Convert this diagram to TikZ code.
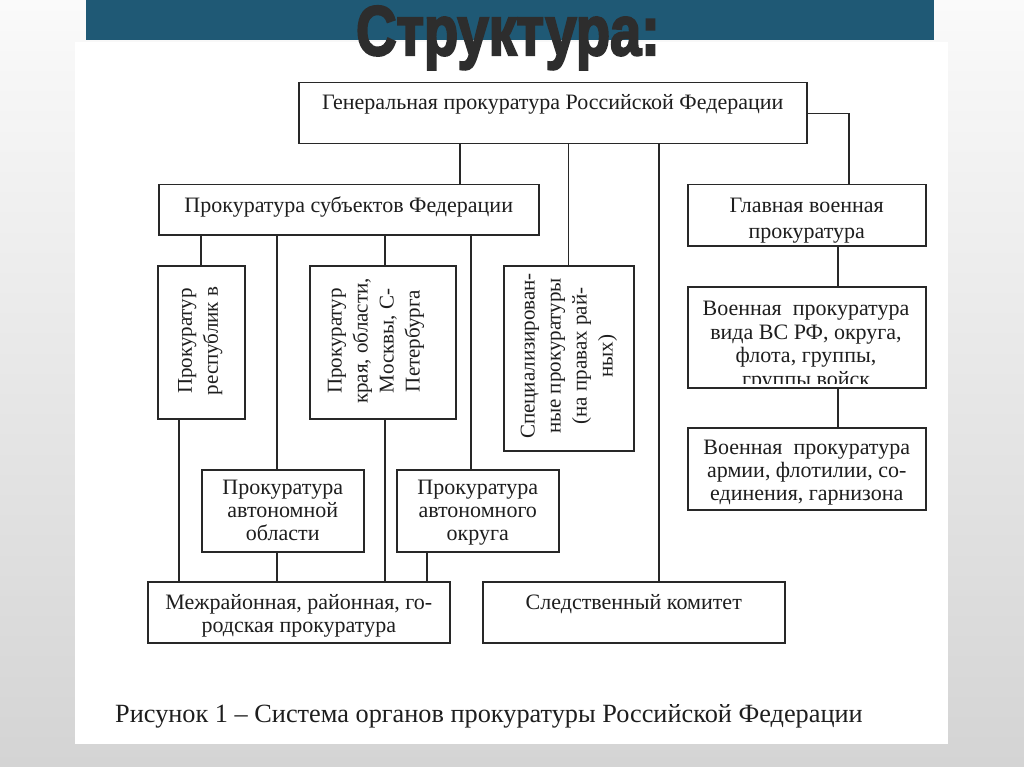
\documentclass[tikz,border=0pt]{standalone}
\usepackage{fontspec}
\setmainfont{Liberation Serif}
\newfontfamily\titlefont[FakeBold=3.5]{Liberation Sans Bold}
\definecolor{barc}{RGB}{31,89,117}
\definecolor{titlec}{RGB}{45,45,45}
\definecolor{linec}{RGB}{40,40,40}
\definecolor{textc}{RGB}{30,30,30}
\definecolor{bgtop}{RGB}{250,250,250}
\definecolor{bgbot}{RGB}{212,212,212}
\tikzset{
  box/.style={draw=linec, line width=1.5pt, fill=white, inner sep=0pt, anchor=north west,
    align=center, text=textc, font=\fontsize{22}{23}\selectfont},
  rtext/.style={rotate=90, align=center, text=textc, inner sep=0pt, font=\fontsize{21}{26}\selectfont},
  conn/.style={draw=linec, line width=1.4pt}
}
\begin{document}
\begin{tikzpicture}[x=1pt,y=-1pt]
\useasboundingbox (0,0) rectangle (1024,767);
\shade[top color=bgtop, bottom color=bgbot] (0,0) rectangle (1024,767);
\fill[white] (75,42) rectangle (948,744);
\fill[barc] (86,0) rectangle (934,40);
\node[anchor=base, inner sep=0pt, text=titlec, font=\titlefont\fontsize{70}{70}\selectfont] (title) at (508,55) {\scalebox{0.8}[1]{Структура:}};

% boxes
\node[box, minimum width=508pt, minimum height=61pt, text height=27pt, text depth=34pt] (gen) at (298,82) {Генеральная прокуратура Российской Федерации};
\node[box, minimum width=380pt, minimum height=50pt, text height=28pt, text depth=22pt] (subj) at (158,184) {Прокуратура субъектов Федерации};
\node[box, minimum width=238pt, minimum height=61pt, text height=54pt, text depth=7pt, font=\fontsize{22}{26}\selectfont] (glav) at (687,184) {Главная военная\\прокуратура};
\node[box, minimum width=87pt, minimum height=153pt] (resp) at (157,265) {};
\node[box, minimum width=146pt, minimum height=153pt] (krai) at (309,265) {};
\node[box, minimum width=130pt, minimum height=185pt] (spec) at (503,265) {};
\node[box, minimum width=238pt, minimum height=101pt] (v2) at (687,286) {};
\node[box, minimum width=238pt, minimum height=82pt, text height=73pt, text depth=9pt] (v3) at (687,427) {Военная\ \ прокуратура\\армии, флотилии, со-\\единения, гарнизона};
\node[box, minimum width=162pt, minimum height=82pt, text height=71pt, text depth=11pt] (avtobl) at (201,469) {Прокуратура\\автономной\\области};
\node[box, minimum width=162pt, minimum height=82pt, text height=71pt, text depth=11pt] (avtokr) at (396,469) {Прокуратура\\автономного\\округа};
\node[box, minimum width=302pt, minimum height=61pt, text height=51pt, text depth=10pt] (mezh) at (147,581) {Межрайонная, районная, го-\\родская прокуратура};
\node[box, minimum width=302pt, minimum height=61pt, text height=28pt, text depth=33pt] (sled) at (482,581) {Следственный комитет};

% rotated / clipped texts
\begin{scope}
\clip (158,266) rectangle (232,417);
\node[rtext] (respt) at (213,341) {Прокуратур\\республик в\\т.д.};
\end{scope}
\node[rtext] (krait) at (376,341) {Прокуратур\\края, области,\\Москвы, С-\\Петербурга};
\node[rtext] (spect) at (569,356) {Специализирован-\\ные прокуратуры\\(на правах рай-\\ных)};
\begin{scope}
\clip (688,287) rectangle (924,383);
\node[align=center, text=textc, inner sep=0pt, anchor=north, font=\fontsize{22}{23.5}\selectfont] (v2t) at (806,301) {Военная\ \ прокуратура\\вида ВС РФ, округа,\\флота, группы,\\группы войск};
\end{scope}

% connectors
\draw[conn] (gen.south -| 460,0) -- (subj.north -| 460,0);
\draw[conn] (gen.south -| spec.north) -- (spec.north);
\draw[conn] (gen.south -| 659,0) -- (sled.north -| 659,0);
\draw[conn] (gen.east) -| (glav.north -| 849,0);
\draw[conn] (glav.south -| 838,0) -- (v2.north -| 838,0);
\draw[conn] (v2.south -| 838,0) -- (v3.north -| 838,0);
\draw[conn] (subj.south -| 201,0) -- (resp.north -| 201,0);
\draw[conn] (subj.south -| 277,0) -- (avtobl.north -| 277,0);
\draw[conn] (subj.south -| 385,0) -- (krai.north -| 385,0);
\draw[conn] (subj.south -| 471,0) -- (avtokr.north -| 471,0);
\draw[conn] (resp.south -| 179,0) -- (mezh.north -| 179,0);
\draw[conn] (avtobl.south -| 277,0) -- (mezh.north -| 277,0);
\draw[conn] (krai.south -| 385,0) -- (mezh.north -| 385,0);
\draw[conn] (avtokr.south -| 427,0) -- (mezh.north -| 427,0);

% caption
\node[anchor=base, inner sep=0pt, text=textc, font=\fontsize{26.3}{28}\selectfont] (cap) at (489,722) {Рисунок 1 – Система органов прокуратуры Российской Федерации};
\end{tikzpicture}
\end{document}
